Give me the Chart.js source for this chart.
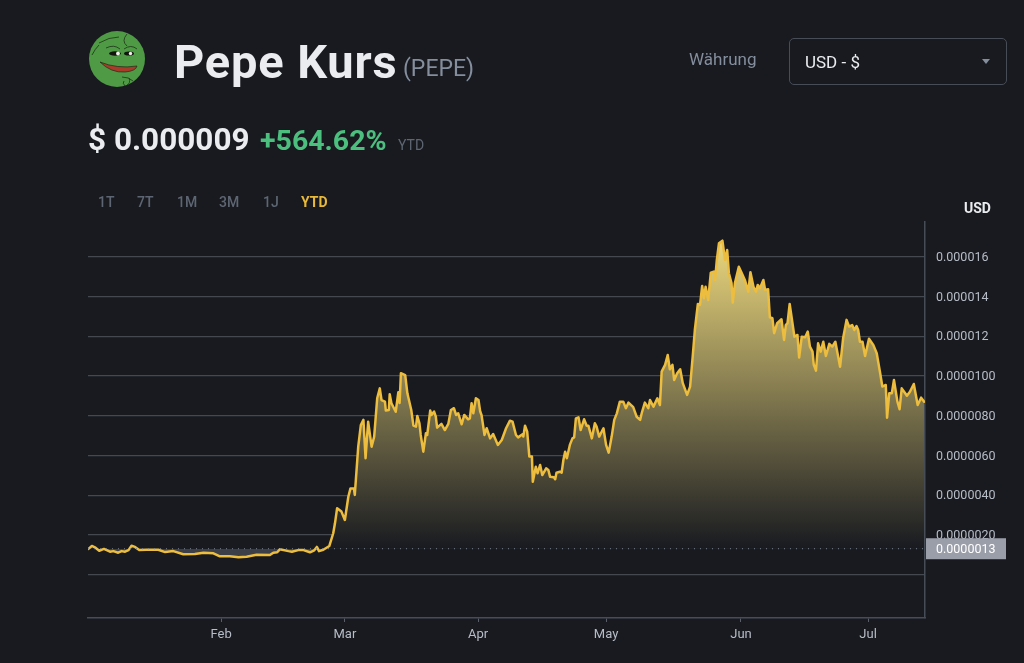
<!DOCTYPE html>
<html lang="de">
<head>
<meta charset="utf-8">
<title>Pepe Kurs</title>
<script src="https://cdn.jsdelivr.net/npm/chart.js@4"></script>
<style>
html,body{margin:0;padding:0;background:#181a20;width:1024px;height:663px;overflow:hidden;font-family:Roboto,"Noto Sans",sans-serif}
canvas{position:absolute;left:0;top:0}
.t{position:absolute;white-space:nowrap;line-height:1}
</style>
</head>
<body>
<canvas id="c" width="1024" height="663" style="width:1024px;height:663px"></canvas>
<svg style="position:absolute;left:89px;top:31px" width="56" height="56" viewBox="0 0 56 56">
<circle cx="28" cy="28" r="28" fill="#4f9a45"/>
<path d="M11 31 Q28 38 48 35 Q47 40 36 41 Q22 42 11 31Z" fill="#a83c2a" stroke="#1d2a16" stroke-width=".7"/>
<ellipse cx="26" cy="22.5" rx="6" ry="2.2" fill="#10140d"/>
<ellipse cx="40" cy="22.5" rx="5" ry="2" fill="#10140d"/>
<circle cx="29" cy="22.5" r="1.9" fill="#f2f2ec"/><circle cx="41.5" cy="22.5" r="1.7" fill="#f2f2ec"/>
<path d="M17 17 Q25 13 31 18M35 18 Q42 13 48 18M38 3 Q32 10 38 15M10 12 Q20 6 30 6M3 24 Q6 18 10 14" fill="none" stroke="#1d3216" stroke-width=".8"/>
<path d="M33 46 Q40 46 44 50 M35 50 Q33 52 36 55 M40 47 Q42 52 38 54" fill="none" stroke="#1d3216" stroke-width=".8"/>
</svg>
<div class="t" style="left:174px;top:38px;font-size:47px;font-weight:700;letter-spacing:.85px;color:#eaecef">Pepe Kurs</div>
<div class="t" style="left:403px;top:57px;font-size:23px;color:#848e9c">(PEPE)</div>
<div class="t" style="left:689px;top:51px;font-size:17px;color:#848e9c">Währung</div>
<div style="position:absolute;left:789px;top:38px;width:216px;height:45px;border:1px solid #474d57;border-radius:5px"></div>
<div class="t" style="left:805px;top:54px;font-size:17px;color:#eaecef">USD - $</div>
<div style="position:absolute;left:982px;top:59px;width:0;height:0;border-left:4px solid transparent;border-right:4px solid transparent;border-top:5px solid #848e9c"></div>
<div class="t" style="left:88px;top:124px;font-size:31.5px;font-weight:700;color:#eaecef">$ 0.000009</div>
<div class="t" style="left:260px;top:127px;font-size:28.5px;font-weight:700;color:#4cbf7f">+564.62%</div>
<div class="t" style="left:398px;top:138px;font-size:14px;color:#5e6673">YTD</div>
<div class="t" style="left:98px;top:195px;font-size:14px;font-weight:500;color:#5e6673">1T</div>
<div class="t" style="left:137px;top:195px;font-size:14px;font-weight:500;color:#5e6673">7T</div>
<div class="t" style="left:177px;top:195px;font-size:14px;font-weight:500;color:#5e6673">1M</div>
<div class="t" style="left:219px;top:195px;font-size:14px;font-weight:500;color:#5e6673">3M</div>
<div class="t" style="left:263px;top:195px;font-size:14px;font-weight:500;color:#5e6673">1J</div>
<div class="t" style="left:301px;top:195px;font-size:14px;font-weight:700;color:#e9b93a">YTD</div>
<div class="t" style="left:964px;top:201px;font-size:14px;font-weight:700;color:#eaecef">USD</div>
<script>
const monthLabels = ["Feb","Mar","Apr","May","Jun","Jul"];
const monthTickDays = [30.9,59.6,90.5,120.2,151.5,181.0];
const yTickValues = [0,2,4,6,8,10,12,14,16];
const yTickLabels = ["","0.0000020","0.0000040","0.0000060","0.0000080","0.0000100","0.000012","0.000014","0.000016"];
const baselineValue = 1.3;
const baselineLabel = "0.0000013";
const days = [0.1,0.9,1.6,2.6,3.7,5.1,5.9,7.0,7.8,8.6,9.4,10.1,10.9,11.9,13.6,16.3,17.9,19.8,22.1,24.8,26.8,29.1,30.6,32.9,34.9,36.8,39.1,42.2,43.0,43.9,44.5,46.5,47.3,48.8,50.0,51.5,52.5,53.1,53.6,54.6,56.0,
56.9,57.3,57.8,58.8,59.6,60.4,60.9,61.7,61.9,62.7,63.3,63.9,64.4,65.0,65.8,66.4,67.1,67.7,68.1,68.9,69.1,69.8,70.0,70.4,71.4,72.0,72.3,72.6,73.6,74.1,75.0,75.5,76.1,76.4,76.9,77.2,77.8,78.4,78.7,79.4,79.7,80.3,80.7,81.0,82.0,82.8,83.6,84.2,84.9,85.4,85.9,86.7,87.3,88.2,88.6,89.0,89.4,90.0,90.6,91.0,91.3,92.0,92.5,93.3,94.0,95.1,96.0,97.0,97.9,98.5,99.3,99.8,100.9,101.0,101.4,101.9,102.4,103.0,103.2,103.9,104.3,104.9,105.4,106.3,106.8,107.2,108.1,108.4,108.7,109.5,109.9,110.3,110.7,111.1,111.8,112.4,112.8,113.2,113.8,114.3,115.1,115.7,116.1,116.9,117.6,118.0,118.6,119.6,120.2,120.8,121.5,122.1,122.7,123.4,124.2,124.8,125.4,126.5,127.3,
128.1,128.5,129.2,130.0,130.4,131.2,132.1,132.7,133.1,133.9,134.5,135.0,135.6,136.0,136.7,137.4,138.0,139.0,139.7,140.3,140.8,141.5,142.0,142.5,142.9,143.3,143.9,144.5,145.2,145.5,145.9,146.4,147.2,147.8,148.3,148.7,149.3,149.6,150.1,151.0,151.7,152.4,153.2,153.7,154.4,155.0,155.4,155.9,156.7,157.1,157.8,158.2,158.8,159.2,159.9,160.9,161.5,161.9,162.3,162.8,163.4,163.9,164.6,165.0,165.6,166.4,167.0,167.5,168.1,168.4,168.9,169.4,170.0,170.6,171.2,172.0,172.7,173.4,174.5,175.2,176.0,176.6,177.3,177.8,178.3,178.7,179.1,179.7,180.3,181.2,182.2,183.0,183.8,184.3,185.1,185.4,185.9,186.5,187.0,187.8,188.3,188.8,189.6,190.0,190.7,191.6,192.5,193.3,194.0];
const pricesMicroUsd = [1.29,1.44,1.37,1.20,1.29,1.15,1.18,1.10,1.18,1.15,1.23,1.45,1.39,1.23,1.25,1.25,1.13,1.18,1.02,1.03,1.10,1.07,0.92,0.92,0.87,0.90,1.00,0.98,1.10,1.12,1.27,1.18,1.15,1.23,1.23,1.12,1.22,1.39,1.18,1.25,1.44,
2.08,2.58,3.34,3.17,2.75,3.92,4.34,4.34,4.01,6.44,7.53,7.79,5.86,7.70,6.44,6.95,8.88,9.38,8.79,8.71,8.26,8.29,9.08,8.63,8.20,9.18,8.64,10.14,10.05,9.13,8.29,7.50,7.45,7.99,7.62,7.03,6.19,7.12,7.03,8.26,8.04,8.21,7.95,7.40,7.59,7.28,7.59,8.29,8.38,8.04,8.12,7.57,8.04,7.82,7.87,8.63,8.12,8.88,8.79,8.21,8.04,7.03,7.37,6.86,7.08,6.53,6.78,7.37,7.75,7.70,7.03,6.91,7.08,6.95,7.50,7.20,5.94,5.94,4.68,5.43,5.10,5.52,5.01,5.35,5.27,4.93,4.90,4.80,5.13,5.18,5.13,5.77,6.19,5.86,6.53,6.86,6.91,7.87,7.92,7.28,7.82,7.50,7.50,6.86,7.62,7.45,6.95,7.37,6.53,6.14,6.95,7.79,8.12,8.71,8.71,8.38,8.66,8.43,7.95,
7.79,8.15,8.66,8.38,8.79,8.46,8.88,8.54,10.22,10.56,11.06,10.34,10.56,9.80,10.14,10.34,9.64,9.05,9.47,10.98,12.32,13.63,13.58,14.54,13.92,14.50,13.83,15.21,15.26,14.84,15.85,16.69,16.82,15.85,16.35,15.18,14.68,13.70,14.68,15.51,15.18,14.84,14.25,15.23,14.50,14.25,14.59,14.42,14.84,14.34,14.37,12.96,12.91,12.16,12.66,12.86,11.82,12.57,12.66,13.63,12.74,11.98,12.07,10.93,11.98,11.95,12.24,11.48,11.23,10.56,10.27,11.65,11.23,11.73,11.01,11.62,11.48,11.73,10.47,11.90,12.83,12.49,12.57,12.32,12.52,12.32,11.73,11.73,11.01,11.88,11.57,11.15,10.14,9.47,9.55,7.90,9.13,9.13,9.80,8.71,8.33,9.38,9.13,9.01,9.21,9.60,8.54,8.91,8.71];

const series = days.map((d,i)=>({x:d,y:pricesMicroUsd[i]}));
const X_MIN = 0, X_MAX = 194.2, Y_MIN = -2.19, Y_MAX = 17.76;

const fillGradient = ctx => {
  const {chart} = ctx;
  const {ctx:c, scales} = chart;
  if(!scales.y) return '#181a20';
  const g = c.createLinearGradient(0, scales.y.getPixelForValue(16.8), 0, scales.y.getPixelForValue(baselineValue));
  g.addColorStop(0,'rgb(235,215,125)');
  g.addColorStop(1,'rgb(24,26,32)');
  return g;
};

const tagPlugin = {
  id:'tag',
  afterDraw(chart){
    const {ctx, scales} = chart;
    const py = scales.y.getPixelForValue(baselineValue);
    const left = chart.chartArea.right + 1;
    ctx.save();
    ctx.fillStyle = '#9a9ea9';
    ctx.fillRect(left, py-10.5, 80, 21);
    ctx.fillStyle = '#ffffff';
    ctx.font = '12.5px Roboto';
    ctx.textAlign = 'left';
    ctx.textBaseline = 'middle';
    ctx.fillText(baselineLabel, left+10, py+1);
    ctx.restore();
  }
};

new Chart(document.getElementById('c'),{
  type:'line',
  plugins:[tagPlugin],
  data:{datasets:[
    {data:[{x:X_MIN,y:baselineValue},{x:X_MAX,y:baselineValue}],borderColor:'#7d828c',borderWidth:1,borderDash:[1,5],pointRadius:0,fill:false,order:0},
    {data:series,borderColor:'#ecbd3e',borderWidth:2.5,borderJoinStyle:'round',borderCapStyle:'round',pointRadius:0,tension:0,order:1,
     fill:{target:{value:baselineValue},above:fillGradient,below:'#3c3f47'}}
  ]},
  options:{
    responsive:false,animation:false,devicePixelRatio:1,
    layout:{padding:{left:88,top:222,right:0,bottom:0}},
    plugins:{legend:{display:false},tooltip:{enabled:false}},
    scales:{
      x:{type:'linear',min:X_MIN,max:X_MAX,
        afterBuildTicks(s){s.ticks=monthTickDays.map(v=>({value:v}));},
        afterFit(s){s.height=45;},
        grid:{drawOnChartArea:false,drawTicks:true,tickLength:4,color:'#5a5f68'},
        border:{display:true,color:'#474d57',width:1.5},
        ticks:{color:'#b7bdc6',font:{family:'Roboto',size:13},padding:5,autoSkip:false,maxRotation:0,
          callback(v,i){return monthLabels[i];}}
      },
      y:{position:'right',min:Y_MIN,max:Y_MAX,
        afterBuildTicks(s){s.ticks=yTickValues.map(v=>({value:v}));},
        afterFit(s){s.width=99;},
        grid:{color:'#45484f',lineWidth:1.2,drawTicks:false},
        border:{display:true,color:'#474d57',width:1.5},
        ticks:{color:'#b7bdc6',font:{family:'Roboto',size:12.5},padding:11,labelOffset:1,autoSkip:false,align:'center',
          callback(v,i){return yTickLabels[i];}}
      }
    }
  }
});
</script>
</body>
</html>
